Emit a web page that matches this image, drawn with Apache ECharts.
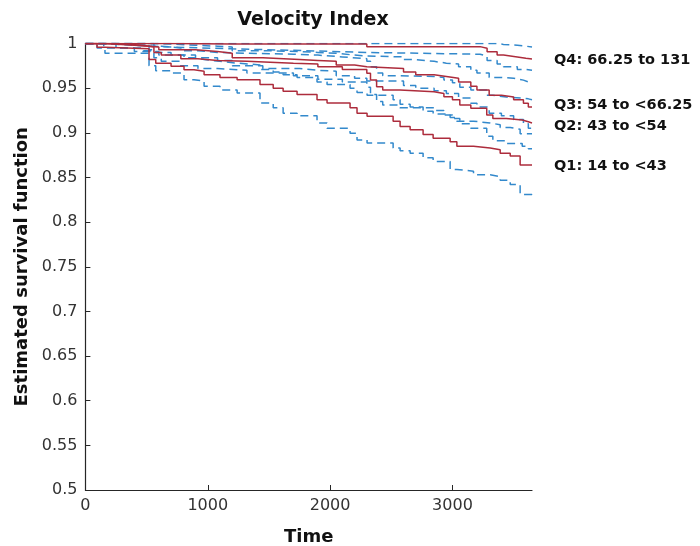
<!DOCTYPE html>
<html>
<head>
<meta charset="utf-8">
<script src="https://cdn.jsdelivr.net/npm/echarts@6/dist/echarts.min.js"></script>
<style>html,body{margin:0;padding:0;background:#fff}#c{width:700px;height:546px}</style>
</head>
<body>
<div id="c"></div>
<script>
const titleText = 'Velocity Index';
const xName = 'Time';
const yName = 'Estimated survival function';
const groupLabels = ['Q1: 14 to <43', 'Q2: 43 to <54', 'Q3: 54 to <66.25', 'Q4: 66.25 to 131'];

const q1Time = [0, 95, 160, 520, 575, 700, 806, 888, 970, 1100, 1240, 1427, 1535, 1616, 1730, 1893, 1975, 2163, 2220, 2302, 2515, 2572, 2654, 2760, 2842, 2981, 3036, 3172, 3308, 3390, 3472, 3553, 3650];
const q1Surv = [1, 0.9957, 0.994, 0.982, 0.978, 0.9745, 0.9707, 0.969, 0.965, 0.962, 0.9595, 0.954, 0.950, 0.9465, 0.943, 0.937, 0.9334, 0.928, 0.922, 0.9185, 0.913, 0.907, 0.9035, 0.898, 0.894, 0.890, 0.885, 0.883, 0.881, 0.877, 0.874, 0.864, 0.864];
const q1Lower = [1, 0.995, 0.989, 0.975, 0.9695, 0.967, 0.9595, 0.958, 0.952, 0.948, 0.9445, 0.9334, 0.928, 0.922, 0.919, 0.911, 0.905, 0.8995, 0.892, 0.8886, 0.883, 0.880, 0.877, 0.872, 0.868, 0.859, 0.857, 0.853, 0.851, 0.847, 0.842, 0.831, 0.829];
const q1Upper = [1, 1, 1, 0.993, 0.990, 0.987, 0.984, 0.982, 0.980, 0.978, 0.976, 0.971, 0.968, 0.965, 0.962, 0.957, 0.954, 0.950, 0.945, 0.942, 0.937, 0.932, 0.929, 0.924, 0.921, 0.917, 0.913, 0.911, 0.909, 0.906, 0.904, 0.899, 0.899];

const q2Time = [0, 250, 470, 560, 620, 780, 920, 1080, 1320, 1700, 1900, 2100, 2300, 2330, 2380, 2430, 2570, 2850, 2930, 3000, 3060, 3150, 3280, 3330, 3440, 3570, 3620, 3650];
const q2Surv = [1, 0.998, 0.996, 0.99, 0.987, 0.983, 0.981, 0.98, 0.978, 0.977, 0.974, 0.971, 0.9666, 0.959, 0.9516, 0.948, 0.946, 0.944, 0.9404, 0.937, 0.931, 0.9274, 0.92, 0.916, 0.9143, 0.9124, 0.911, 0.911];
const q2Lower = [1, 0.995, 0.992, 0.984, 0.980, 0.975, 0.972, 0.970, 0.967, 0.964, 0.960, 0.957, 0.951, 0.943, 0.935, 0.931, 0.928, 0.925, 0.920, 0.916, 0.910, 0.905, 0.896, 0.891, 0.888, 0.885, 0.882, 0.882];
const q2Upper = [1, 1, 1, 0.997, 0.995, 0.992, 0.990, 0.989, 0.988, 0.987, 0.985, 0.983, 0.980, 0.974, 0.967, 0.964, 0.963, 0.962, 0.959, 0.956, 0.951, 0.948, 0.942, 0.940, 0.939, 0.938, 0.937, 0.937];

const q3Time = [0, 150, 400, 600, 900, 1080, 1200, 1450, 1750, 1900, 2050, 2200, 2300, 2600, 2700, 2850, 2950, 3050, 3150, 3200, 3300, 3400, 3500, 3580, 3620, 3650];
const q3Surv = [1, 0.998, 0.996, 0.993, 0.991, 0.989, 0.984, 0.982, 0.981, 0.98, 0.976, 0.974, 0.972, 0.968, 0.965, 0.963, 0.961, 0.957, 0.952, 0.948, 0.942, 0.940, 0.937, 0.933, 0.929, 0.929];
const q3Lower = [1, 0.995, 0.991, 0.987, 0.984, 0.981, 0.975, 0.972, 0.970, 0.969, 0.964, 0.961, 0.958, 0.953, 0.950, 0.947, 0.944, 0.939, 0.933, 0.929, 0.922, 0.919, 0.915, 0.910, 0.905, 0.905];
const q3Upper = [1, 1, 1, 0.998, 0.997, 0.996, 0.992, 0.991, 0.990, 0.989, 0.987, 0.986, 0.985, 0.982, 0.980, 0.978, 0.977, 0.974, 0.970, 0.967, 0.962, 0.961, 0.959, 0.957, 0.956, 0.956];

const q4Time = [0, 150, 400, 700, 1200, 1800, 2300, 3226, 3283, 3365, 3417, 3530, 3600, 3650];
const q4Surv = [1, 1, 1, 0.9995, 0.9995, 0.9995, 0.9965, 0.9946, 0.9908, 0.987, 0.985, 0.9834, 0.9826, 0.9826];
const q4Lower = [1, 0.998, 0.996, 0.994, 0.992, 0.990, 0.988, 0.986, 0.981, 0.977, 0.974, 0.971, 0.970, 0.970];
const q4Upper = [1, 1, 1, 1, 1, 1, 1, 1, 1, 0.999, 0.998, 0.997, 0.996, 0.996];

const xTicks = ['0', '1000', '2000', '3000'];
const yTicks = ['0.5', '0.55', '0.6', '0.65', '0.7', '0.75', '0.8', '0.85', '0.9', '0.95', '1'];

const groups = [
  {t: q1Time, s: q1Surv, lo: q1Lower, up: q1Upper, label: groupLabels[0], dy: 1},
  {t: q2Time, s: q2Surv, lo: q2Lower, up: q2Upper, label: groupLabels[1], dy: 3},
  {t: q3Time, s: q3Surv, lo: q3Lower, up: q3Upper, label: groupLabels[2], dy: -2},
  {t: q4Time, s: q4Surv, lo: q4Lower, up: q4Upper, label: groupLabels[3], dy: 1}
];
const pairs = (t, v) => t.map((x, i) => [x, v[i]]);

const RED = '#ad2c3c';
const BLUE = '#3389cc';
const FONT = 'DejaVu Sans';
const series = [];
groups.forEach(g => {
  ['lo', 'up'].forEach(k => {
    series.push({
      type: 'line', step: 'end', showSymbol: false, silent: true,
      data: pairs(g.t, g[k]),
      lineStyle: {color: BLUE, width: 1.5, type: [8, 5]}
    });
  });
});
groups.forEach(g => {
  series.push({
    type: 'line', step: 'end', showSymbol: false, silent: true,
    data: pairs(g.t, g.s),
    lineStyle: {color: RED, width: 1.5},
    endLabel: {
      show: true, formatter: g.label, distance: 22, offset: [0, g.dy],
      fontFamily: FONT, fontWeight: 'bold', fontSize: 14.5, color: '#111'
    }
  });
});

const chart = echarts.init(document.getElementById('c'), null, {renderer: 'canvas'});
chart.setOption({
  animation: false,
  backgroundColor: '#fff',
  title: {
    text: titleText, left: 308, top: 6, textAlign: 'center',
    textStyle: {fontFamily: FONT, fontWeight: 'bold', fontSize: 19, color: '#111'}
  },
  grid: {left: 85.4, right: 168, top: 43.5, bottom: 56, containLabel: false, outerBoundsMode: 'none'},
  xAxis: {
    type: 'value', min: 0, max: 3650, interval: 1000,
    name: xName, nameLocation: 'middle', nameGap: 38,
    nameTextStyle: {fontFamily: FONT, fontWeight: 'bold', fontSize: 18, color: '#111'},
    axisLine: {lineStyle: {color: '#262626', width: 1.2}},
    axisTick: {inside: true, length: 5, lineStyle: {color: '#262626'}},
    axisLabel: {
      fontFamily: FONT, fontSize: 16, color: '#333', margin: 8, showMaxLabel: false,
      formatter: v => xTicks[Math.round(v / 1000)] || ''
    },
    splitLine: {show: false}
  },
  yAxis: {
    type: 'value', min: 0.5, max: 1, interval: 0.05,
    name: yName, nameLocation: 'middle', nameGap: 50, nameRotate: 90,
    nameTextStyle: {fontFamily: FONT, fontWeight: 'bold', fontSize: 18, color: '#111'},
    axisLine: {show: true, lineStyle: {color: '#262626', width: 1.2}},
    axisTick: {show: true, inside: true, length: 5, lineStyle: {color: '#262626'}},
    axisLabel: {
      fontFamily: FONT, fontSize: 16, color: '#333', margin: 8,
      formatter: v => yTicks[Math.round((v - 0.5) / 0.05)]
    },
    splitLine: {show: false}
  },
  series: series
});
</script>
</body>
</html>
